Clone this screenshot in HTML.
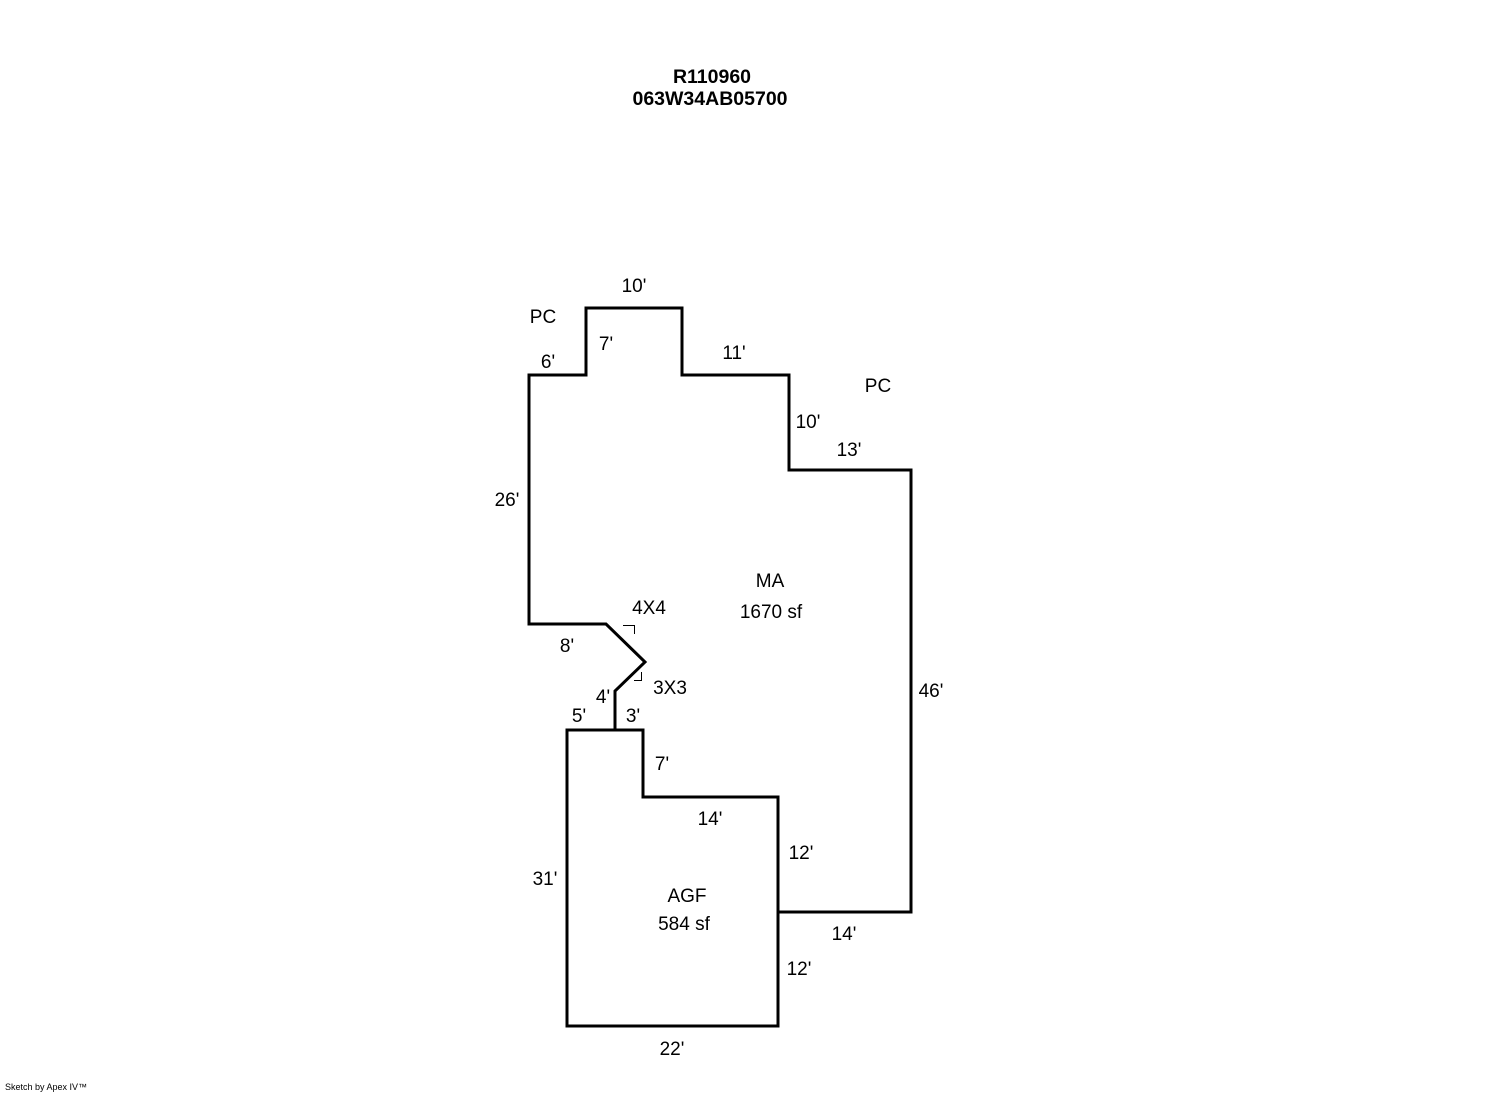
<!DOCTYPE html>
<html><head><style>
body{margin:0;background:#fff;}
svg{display:block;font-family:"Liberation Sans",Arial,sans-serif;font-size:19px;}
</style></head><body>
<svg width="1492" height="1094" viewBox="0 0 1492 1094">
<rect width="1492" height="1094" fill="#fff"/>
<g fill="none" stroke="#000" stroke-width="3" stroke-linejoin="miter">
<polyline points="615,730 615,691 645,662 606,624 529,624 529,375 586,375 586,308 682,308 682,375 789,375 789,470 911,470 911,912 778,912"/>
<polygon points="567,730 643,730 643,797 778,797 778,1026 567,1026"/>
</g>
<g fill="none" stroke="#000" stroke-width="1">
<polyline points="623,625.5 634.5,625.5 634.5,634"/>
<polyline points="634,680.5 641.5,680.5 641.5,672"/>
</g>
<g fill="#000">
<text x="712" y="83" text-anchor="middle" font-weight="bold" font-size="19.5">R110960</text>
<text x="710" y="105" text-anchor="middle" font-weight="bold" font-size="19.5">063W34AB05700</text>
<text x="634" y="292" text-anchor="middle">10'</text>
<text x="543" y="323" text-anchor="middle">PC</text>
<text x="606" y="350" text-anchor="middle">7'</text>
<text x="548" y="368" text-anchor="middle">6'</text>
<text x="734" y="359" text-anchor="middle">11'</text>
<text x="878" y="392" text-anchor="middle">PC</text>
<text x="808" y="428" text-anchor="middle">10'</text>
<text x="849" y="456" text-anchor="middle">13'</text>
<text x="507" y="506" text-anchor="middle">26'</text>
<text x="770" y="587" text-anchor="middle">MA</text>
<text x="771" y="618" text-anchor="middle">1670 sf</text>
<text x="649" y="614" text-anchor="middle">4X4</text>
<text x="567" y="652" text-anchor="middle">8'</text>
<text x="670" y="694" text-anchor="middle">3X3</text>
<text x="931" y="697" text-anchor="middle">46'</text>
<text x="603" y="703" text-anchor="middle">4'</text>
<text x="579" y="722" text-anchor="middle">5'</text>
<text x="633" y="722" text-anchor="middle">3'</text>
<text x="662" y="770" text-anchor="middle">7'</text>
<text x="710" y="825" text-anchor="middle">14'</text>
<text x="801" y="859" text-anchor="middle">12'</text>
<text x="545" y="885" text-anchor="middle">31'</text>
<text x="687" y="902" text-anchor="middle">AGF</text>
<text x="684" y="930" text-anchor="middle">584 sf</text>
<text x="844" y="940" text-anchor="middle">14'</text>
<text x="799" y="975" text-anchor="middle">12'</text>
<text x="672" y="1055" text-anchor="middle">22'</text>
<text x="5" y="1090" font-size="9">Sketch by Apex IV™</text>
</g>
</svg>
</body></html>
